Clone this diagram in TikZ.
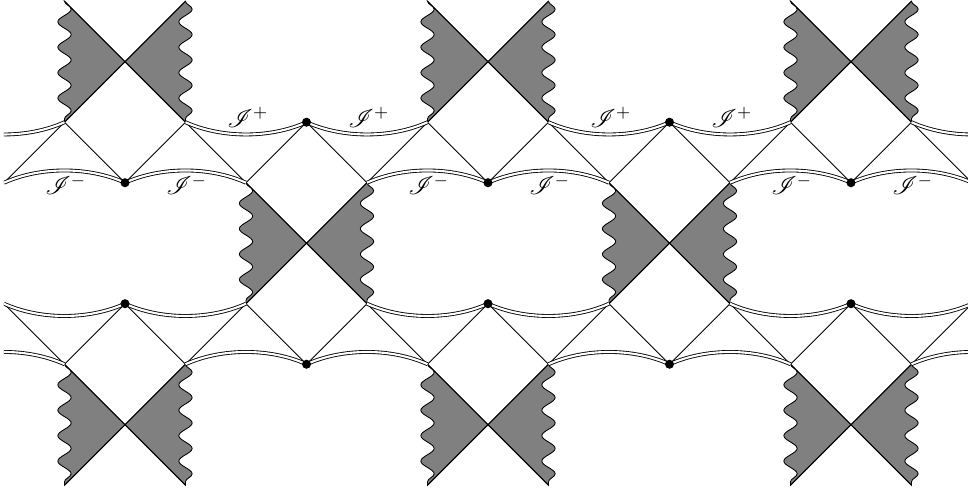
\documentclass[tikz,border=0pt]{standalone}
\usepackage{mathrsfs}
\usetikzlibrary{decorations.pathmorphing}
\tikzset{
  ln/.style={line width=0.4pt, draw=black},
  scri/.style={line width=0.4pt, draw=black, double=white, double distance=1pt},
  wv/.style={decoration={snake, amplitude=0.11cm, segment length=0.42cm}},
  shade/.style={fill=gray, draw=black, line width=0.4pt, wv},
  dotnode/.style={circle, fill=black, draw=none, inner sep=0pt, minimum size=0.15cm},
  lab/.style={inner sep=0pt, font=\large},
}
\begin{document}
\begin{tikzpicture}
\useasboundingbox (-0.066,0.02) rectangle (15.934,-8.08);
\clip (0,0.1) rectangle (15.934,-8.2);
% shaded regions with singularities
\foreach \k in {0,6,12} {
  \filldraw[shade] decorate {(1+\k,0) -- (1+\k,-2)} -- (2+\k,-1) -- cycle;
  \filldraw[shade] decorate {(3+\k,0) -- (3+\k,-2)} -- (2+\k,-1) -- cycle;
  \filldraw[shade] decorate {(1+\k,-6) -- (1+\k,-8)} -- (2+\k,-7) -- cycle;
  \filldraw[shade] decorate {(3+\k,-6) -- (3+\k,-8)} -- (2+\k,-7) -- cycle;
  \draw[ln] (1+\k,0) -- (3+\k,-2);
  \draw[ln] (3+\k,0) -- (1+\k,-2);
  \draw[ln] (1+\k,-6) -- (3+\k,-8);
  \draw[ln] (3+\k,-6) -- (1+\k,-8);
}
\foreach \k in {0,6} {
  \filldraw[shade] decorate {(4+\k,-3) -- (4+\k,-5)} -- (5+\k,-4) -- cycle;
  \filldraw[shade] decorate {(6+\k,-3) -- (6+\k,-5)} -- (5+\k,-4) -- cycle;
  \draw[ln] (4+\k,-3) -- (6+\k,-5);
  \draw[ln] (6+\k,-3) -- (4+\k,-5);
}
% null zigzags
\foreach \i in {0,2,...,16} {
  \draw[ln] (\i-1,-2) -- (\i,-3) -- (\i+1,-2);
  \draw[ln] (\i-1,-6) -- (\i,-5) -- (\i+1,-6);
}
% null infinities
\foreach \a in {-1,3,5,9,11,15} {
  \draw[scri] (\a,-2) .. controls +(0.6,-0.27) and +(-0.6,-0.27) .. (\a+2,-2);
  \draw[scri] (\a,-6) .. controls +(0.6,0.27) and +(-0.6,0.27) .. (\a+2,-6);
}
\foreach \a in {0,2,6,8,12,14} {
  \draw[scri] (\a,-3) .. controls +(0.6,0.27) and +(-0.6,0.27) .. (\a+2,-3);
  \draw[scri] (\a,-5) .. controls +(0.6,-0.27) and +(-0.6,-0.27) .. (\a+2,-5);
}
% dots
\foreach \k in {0,6,12} {
  \node[dotnode] (da\k) at (2+\k,-3) {};
  \node[dotnode] (db\k) at (2+\k,-5) {};
}
\foreach \k in {0,6} {
  \node[dotnode] (dc\k) at (5+\k,-2) {};
  \node[dotnode] (dd\k) at (5+\k,-6) {};
}
% labels
\foreach \x in {4,6,10,12}
  \node[lab] (p\x) at (\x+0.03,-1.92) {$\mathscr{I}^+$};
\foreach \x in {1,3,7,9,13,15}
  \node[lab] (m\x) at (\x+0.02,-3.04) {$\mathscr{I}^-$};
\end{tikzpicture}
\end{document}
